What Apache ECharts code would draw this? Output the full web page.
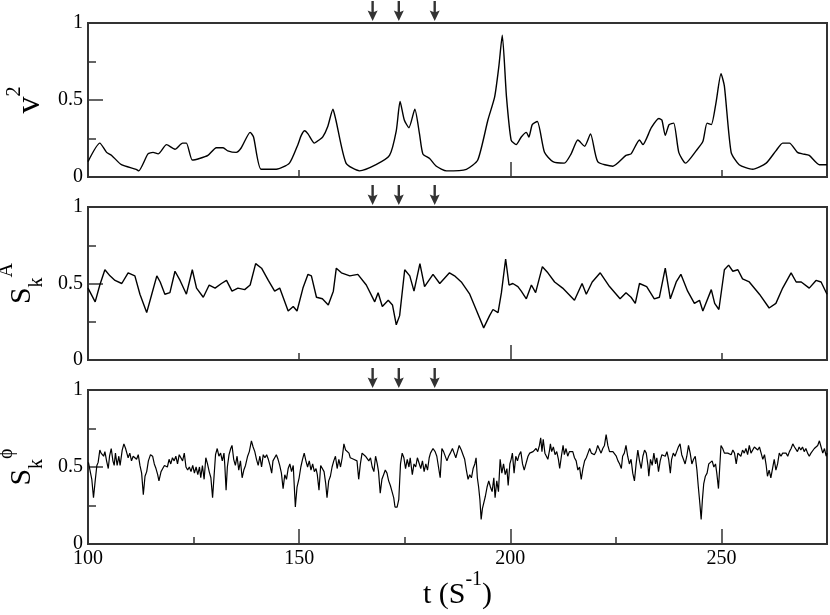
<!DOCTYPE html>
<html>
<head>
<meta charset="utf-8">
<script src="https://cdn.jsdelivr.net/npm/echarts@6/dist/echarts.min.js"></script>
<style>
  html, body { margin: 0; padding: 0; background: #fff; }
  #chart { width: 830px; height: 615px; }
</style>
</head>
<body>
<div id="chart"></div>
<script>
// t of the three marked events (arrows above each panel)
const arrowTimes = [167.4, 173.6, 182.1];

// x ticks
const xLabels = [100, 150, 200, 250];
const xLongTop = [200];
const xShortTop = [150, 250];
const xLongBottom = [150, 200, 250];
const xShortBottom = [125, 175, 225];
// y ticks
const yLabels = [0, 0.5, 1];
const yLong = [0.5];
const yShort = [0.25, 0.75];

// v^2 (t, value)
const v2Points = [
  [100.0,0.10],[102.8,0.22],[104.4,0.16],[105.6,0.14],[107.9,0.08],[111.4,0.05],[112.0,0.04],[114.2,0.15],
  [115.4,0.16],[116.6,0.15],[118.6,0.21],[120.6,0.18],[122.4,0.22],[123.3,0.22],[124.7,0.11],[126.4,0.12],
  [128.4,0.14],[130.4,0.19],[132.0,0.19],[133.1,0.17],[135.1,0.16],[136.3,0.19],[138.4,0.29],[139.2,0.26],
  [141.0,0.05],[144.6,0.05],[147.7,0.09],[149.7,0.21],[150.5,0.27],[151.3,0.30],[152.1,0.28],[153.6,0.22],
  [154.7,0.24],[155.6,0.26],[156.8,0.33],[158.0,0.44],[158.7,0.37],[161.1,0.09],[164.3,0.04],[168.2,0.08],
  [171.4,0.14],[173.0,0.30],[173.9,0.49],[174.9,0.37],[176.0,0.32],[177.4,0.44],[178.5,0.28],[179.3,0.15],
  [180.9,0.12],[182.5,0.07],[184.9,0.04],[189.6,0.05],[192.3,0.11],[194.7,0.37],[196.3,0.52],[197.3,0.72],
  [198.1,0.92],[199.1,0.52],[200.2,0.24],[201.4,0.21],[202.6,0.26],[203.8,0.29],[204.4,0.26],[205.2,0.34],
  [206.4,0.36],[208.1,0.16],[210.1,0.10],[212.8,0.09],[214.4,0.15],[216.0,0.24],[217.6,0.20],[219.0,0.28],
  [220.7,0.10],[224.3,0.07],[227.4,0.14],[228.6,0.15],[230.6,0.24],[231.4,0.21],[233.4,0.32],[235.2,0.38],
  [235.9,0.37],[236.7,0.27],[237.6,0.34],[238.7,0.35],[239.9,0.16],[241.5,0.09],[244.0,0.17],[245.6,0.23],
  [246.6,0.35],[247.6,0.34],[248.7,0.48],[249.9,0.67],[250.7,0.59],[252.3,0.16],[254.2,0.08],[257.4,0.05],
  [260.6,0.09],[262.9,0.17],[264.5,0.22],[266.1,0.22],[268.0,0.16],[269.2,0.15],[270.8,0.14],[273.2,0.08],
  [275.0,0.08]
];

// S_k^A
const sAPoints = [
  [100.0,0.47],[101.7,0.38],[102.8,0.49],[104.0,0.59],[105.2,0.55],[106.4,0.52],[108.0,0.50],[109.5,0.57],
  [111.1,0.55],[112.3,0.43],[113.9,0.31],[115.1,0.43],[116.3,0.55],[117.1,0.51],[118.2,0.43],[119.4,0.44],
  [120.6,0.58],[121.8,0.52],[123.3,0.43],[124.7,0.59],[125.7,0.47],[127.3,0.41],[128.7,0.49],[130.1,0.47],
  [131.6,0.50],[132.8,0.52],[134.1,0.45],[135.5,0.47],[137.1,0.46],[138.4,0.49],[139.7,0.63],[141.1,0.60],
  [142.7,0.52],[144.2,0.45],[145.4,0.47],[147.4,0.32],[148.6,0.35],[149.5,0.32],[150.9,0.47],[152.1,0.56],
  [152.9,0.55],[154.1,0.41],[155.5,0.40],[156.9,0.36],[158.1,0.45],[158.8,0.60],[160.0,0.57],[162.0,0.55],
  [163.9,0.56],[165.9,0.49],[167.9,0.38],[168.7,0.44],[169.7,0.35],[171.1,0.39],[172.1,0.36],[173.0,0.23],
  [173.8,0.29],[175.0,0.59],[176.2,0.55],[177.2,0.45],[178.6,0.63],[179.7,0.48],[181.7,0.56],[183.3,0.50],
  [185.6,0.57],[186.8,0.55],[188.4,0.51],[190.4,0.43],[191.9,0.33],[193.7,0.21],[195.1,0.29],[195.9,0.33],
  [197.1,0.31],[197.9,0.44],[198.9,0.66],[199.7,0.49],[200.6,0.50],[201.8,0.48],[202.6,0.45],[203.8,0.40],
  [205.0,0.49],[206.0,0.44],[207.6,0.61],[208.9,0.57],[210.5,0.51],[212.4,0.47],[215.2,0.39],[217.0,0.50],
  [218.0,0.43],[219.4,0.51],[221.3,0.57],[223.5,0.48],[226.0,0.40],[227.4,0.44],[228.6,0.41],[229.6,0.37],
  [230.6,0.50],[232.3,0.48],[234.1,0.40],[235.3,0.41],[236.7,0.60],[237.9,0.40],[239.3,0.51],[240.4,0.56],
  [242.0,0.45],[243.6,0.37],[244.8,0.39],[245.6,0.32],[247.6,0.46],[248.4,0.37],[249.4,0.33],[250.7,0.59],
  [251.7,0.62],[252.7,0.58],[253.9,0.59],[255.0,0.53],[256.6,0.51],[259.0,0.43],[261.3,0.34],[262.9,0.37],
  [264.5,0.47],[266.5,0.57],[267.7,0.51],[268.9,0.51],[270.8,0.47],[272.4,0.52],[273.6,0.51],[275.0,0.43]
];

// S_k^phi
const sPhiPoints = [
  [100.1,0.53],[100.5,0.52],[100.9,0.42],[101.3,0.30],[101.7,0.41],[102.1,0.51],[102.4,0.53],[102.8,0.61],
  [103.1,0.59],[103.4,0.60],[103.7,0.57],[104.0,0.60],[104.4,0.54],[104.8,0.49],[105.1,0.57],[105.5,0.62],
  [105.9,0.54],[106.2,0.51],[106.5,0.59],[106.9,0.51],[107.3,0.57],[107.6,0.51],[108.1,0.61],[108.5,0.65],
  [108.9,0.62],[109.2,0.59],[109.5,0.56],[109.9,0.59],[110.3,0.54],[110.7,0.57],[111.1,0.58],[111.5,0.55],
  [111.9,0.58],[112.3,0.51],[112.7,0.46],[113.1,0.32],[113.5,0.44],[113.9,0.47],[114.3,0.54],[114.8,0.58],
  [115.3,0.57],[115.7,0.52],[116.1,0.49],[116.5,0.45],[116.8,0.41],[117.3,0.47],[117.7,0.49],[118.1,0.51],
  [118.5,0.52],[118.8,0.50],[119.2,0.55],[119.6,0.52],[120.0,0.56],[120.4,0.54],[120.8,0.57],[121.2,0.52],
  [121.6,0.58],[122.0,0.59],[122.4,0.54],[122.8,0.59],[123.2,0.50],[123.6,0.48],[124.0,0.50],[124.4,0.47],
  [124.8,0.51],[125.2,0.46],[125.6,0.50],[126.0,0.45],[126.4,0.50],[126.7,0.43],[127.1,0.51],[127.5,0.42],
  [127.9,0.56],[128.3,0.52],[128.7,0.47],[129.1,0.43],[129.5,0.30],[129.9,0.46],[130.2,0.58],[130.6,0.62],
  [131.0,0.57],[131.4,0.59],[131.8,0.54],[132.2,0.59],[132.4,0.51],[132.7,0.35],[133.0,0.50],[133.4,0.58],
  [133.8,0.62],[134.1,0.64],[134.5,0.55],[134.9,0.51],[135.3,0.57],[135.7,0.48],[136.1,0.54],[136.5,0.43],
  [136.9,0.48],[137.3,0.51],[137.8,0.57],[138.2,0.60],[138.7,0.67],[139.1,0.63],[139.5,0.60],[139.9,0.55],
  [140.3,0.51],[140.7,0.57],[141.1,0.50],[141.5,0.58],[141.9,0.56],[142.3,0.58],[142.7,0.55],[143.1,0.51],
  [143.5,0.46],[143.8,0.54],[144.2,0.54],[144.6,0.58],[145.0,0.55],[145.4,0.51],[145.8,0.46],[146.2,0.36],
  [146.6,0.45],[147.0,0.42],[147.4,0.49],[147.8,0.52],[148.2,0.47],[148.6,0.51],[149.1,0.24],[149.5,0.37],
  [150.0,0.43],[150.4,0.50],[150.8,0.55],[151.2,0.59],[151.6,0.54],[152.0,0.50],[152.4,0.54],[152.8,0.48],
  [153.2,0.52],[153.6,0.47],[154.0,0.49],[154.3,0.45],[154.7,0.35],[155.1,0.51],[155.5,0.50],[155.9,0.47],
  [156.3,0.39],[156.6,0.30],[157.0,0.41],[157.4,0.44],[157.8,0.50],[158.2,0.54],[158.6,0.57],[159.0,0.49],
  [159.4,0.55],[159.8,0.50],[160.2,0.56],[160.6,0.65],[161.0,0.61],[161.4,0.60],[161.8,0.59],[162.1,0.56],
  [162.5,0.57],[162.9,0.55],[163.3,0.55],[163.7,0.54],[164.1,0.42],[164.5,0.52],[164.9,0.59],[165.3,0.60],
  [165.7,0.57],[166.1,0.58],[166.5,0.54],[166.9,0.56],[167.3,0.50],[167.7,0.47],[168.1,0.57],[168.5,0.52],
  [168.8,0.47],[169.2,0.33],[169.6,0.42],[170.0,0.45],[170.4,0.48],[170.8,0.46],[171.2,0.41],[171.6,0.38],
  [172.0,0.34],[172.4,0.30],[172.7,0.24],[173.2,0.24],[173.6,0.29],[174.0,0.52],[174.4,0.59],[174.8,0.56],
  [175.2,0.49],[175.6,0.55],[176.0,0.50],[176.3,0.56],[176.8,0.45],[177.2,0.52],[177.6,0.50],[178.0,0.56],
  [178.4,0.57],[178.8,0.49],[179.2,0.54],[179.6,0.47],[180.0,0.52],[180.4,0.48],[180.8,0.56],[181.1,0.59],
  [181.7,0.62],[182.2,0.60],[182.6,0.57],[183.0,0.58],[183.4,0.43],[183.8,0.62],[184.2,0.60],[184.6,0.61],
  [185.0,0.54],[185.4,0.57],[185.8,0.59],[186.3,0.62],[186.7,0.59],[187.1,0.56],[187.5,0.57],[187.9,0.64],
  [188.4,0.61],[188.8,0.58],[189.2,0.55],[189.6,0.48],[190.0,0.42],[190.4,0.45],[190.8,0.43],[191.2,0.49],
  [191.6,0.52],[191.9,0.56],[192.2,0.43],[192.5,0.37],[192.8,0.29],[193.1,0.16],[193.4,0.23],[193.8,0.23],
  [194.1,0.31],[194.5,0.37],[194.9,0.41],[195.3,0.37],[195.7,0.34],[196.1,0.43],[196.4,0.30],[196.8,0.41],
  [197.2,0.34],[197.6,0.55],[198.0,0.46],[198.4,0.52],[198.8,0.45],[199.2,0.49],[199.5,0.38],[199.9,0.52],
  [200.2,0.55],[200.5,0.59],[200.9,0.46],[201.3,0.57],[201.7,0.54],[202.1,0.58],[202.5,0.60],[202.9,0.52],
  [203.3,0.48],[203.7,0.52],[204.2,0.57],[204.6,0.59],[205.0,0.58],[205.4,0.60],[205.8,0.61],[206.1,0.62],
  [206.5,0.60],[206.9,0.64],[207.2,0.69],[207.5,0.60],[207.8,0.68],[208.2,0.59],[208.6,0.60],[208.9,0.55],
  [209.3,0.61],[209.5,0.65],[209.8,0.60],[210.2,0.63],[210.6,0.58],[211.0,0.60],[211.4,0.55],[211.7,0.49],
  [212.1,0.57],[212.5,0.64],[212.8,0.58],[213.2,0.62],[213.6,0.57],[214.0,0.60],[214.4,0.59],[214.8,0.60],
  [215.2,0.56],[215.6,0.54],[216.0,0.48],[216.4,0.50],[216.8,0.42],[217.2,0.49],[217.6,0.54],[218.0,0.56],
  [218.4,0.59],[218.8,0.62],[219.2,0.59],[219.5,0.60],[219.9,0.58],[220.3,0.60],[220.7,0.64],[221.1,0.65],
  [221.5,0.59],[221.9,0.62],[222.3,0.64],[222.7,0.71],[223.1,0.64],[223.5,0.60],[223.9,0.61],[224.3,0.60],
  [224.7,0.61],[225.1,0.57],[225.5,0.54],[225.9,0.52],[226.3,0.49],[226.6,0.57],[227.0,0.59],[227.4,0.64],
  [227.8,0.57],[228.2,0.52],[228.6,0.55],[229.0,0.46],[229.4,0.41],[229.8,0.52],[230.2,0.61],[230.6,0.54],
  [231.0,0.49],[231.4,0.57],[231.8,0.61],[232.2,0.59],[232.6,0.51],[232.8,0.44],[233.2,0.55],[233.6,0.51],
  [234.0,0.59],[234.4,0.52],[234.7,0.56],[235.1,0.47],[235.5,0.54],[235.9,0.58],[236.3,0.59],[236.7,0.57],
  [237.1,0.60],[237.5,0.55],[237.9,0.46],[238.2,0.55],[238.6,0.59],[239.0,0.57],[239.4,0.60],[239.8,0.63],
  [240.2,0.65],[240.6,0.58],[241.0,0.55],[241.4,0.52],[241.8,0.57],[242.2,0.64],[242.6,0.59],[243.0,0.52],
  [243.4,0.55],[243.8,0.57],[244.2,0.48],[244.5,0.38],[244.9,0.26],[245.2,0.16],[245.5,0.29],[245.8,0.39],
  [246.2,0.44],[246.6,0.46],[247.0,0.52],[247.4,0.51],[247.8,0.54],[248.2,0.50],[248.6,0.52],[248.9,0.46],
  [249.3,0.36],[249.6,0.50],[249.9,0.64],[250.3,0.62],[250.7,0.59],[251.1,0.60],[251.5,0.59],[251.9,0.60],
  [252.3,0.58],[252.7,0.61],[253.1,0.59],[253.5,0.52],[253.9,0.59],[254.2,0.60],[254.6,0.57],[255.0,0.61],
  [255.4,0.59],[255.8,0.62],[256.2,0.58],[256.6,0.64],[257.0,0.59],[257.4,0.60],[257.8,0.63],[258.2,0.64],
  [258.6,0.61],[259.0,0.63],[259.4,0.59],[259.8,0.55],[260.2,0.58],[260.6,0.51],[260.9,0.44],[261.3,0.48],
  [261.7,0.43],[262.1,0.49],[262.5,0.55],[262.9,0.48],[263.3,0.52],[263.7,0.59],[264.1,0.57],[264.5,0.59],
  [264.9,0.58],[265.3,0.59],[265.7,0.57],[266.1,0.60],[266.5,0.62],[266.9,0.65],[267.3,0.63],[267.7,0.64],
  [268.0,0.60],[268.4,0.63],[268.8,0.61],[269.2,0.63],[269.6,0.60],[270.0,0.62],[270.4,0.59],[270.8,0.57],
  [271.2,0.59],[271.6,0.60],[272.0,0.62],[272.4,0.61],[272.8,0.64],[273.2,0.67],[273.6,0.63],[274.0,0.59],
  [274.4,0.62],[274.8,0.57],[275.0,0.59]
];

const SERIF = 'Liberation Serif';
const FRAME = '#333';
const INK = '#000';

const rich = {
  m: { fontFamily: SERIF, fontSize: 30, color: INK, lineHeight: 50, verticalAlign: 'middle' },
  v: { fontFamily: SERIF, fontSize: 34, color: INK, lineHeight: 50, verticalAlign: 'middle' },
  b: { fontFamily: SERIF, fontSize: 20, color: INK, verticalAlign: 'bottom' },
  p: { fontFamily: SERIF, fontSize: 20, color: INK, verticalAlign: 'top' }
};

const panels = [
  { top: 23, height: 154, points: v2Points, name: '{v|v}{p|2}', gap: 11, xLong: xLongTop, xShort: xShortTop, labels: false },
  { top: 207, height: 153, points: sAPoints, name: '{m|S}{b|k}{p|A}', gap: 41, xLong: xLongTop, xShort: xShortTop, labels: false },
  { top: 390, height: 154, points: sPhiPoints, name: '{m|S}{b|k}{p|ϕ}', gap: 41, xLong: xLongBottom, xShort: xShortBottom, labels: true }
];

const grid = [], xAxis = [], yAxis = [], series = [];
const arrowPath = 'path://M3.8,0 L6.2,0 L6.2,11 L10,9.5 L5,20 L0,9.5 L3.8,11 Z';

panels.forEach((p, i) => {
  grid.push({ left: 88, right: 3, top: p.top, height: p.height, outerBoundsMode: 'none', containLabel: false,
    show: true, borderColor: FRAME, borderWidth: 2 });

  const xBase = { type: 'value', gridIndex: i, position: 'bottom', min: 100, max: 275,
    axisLine: { show: false }, splitLine: { show: false } };
  xAxis.push(Object.assign({}, xBase, {
    axisTick: { show: true, inside: true, length: 15, customValues: p.xLong, lineStyle: { color: FRAME, width: 1.5 } },
    axisLabel: p.labels
      ? { show: true, customValues: xLabels, fontFamily: SERIF, fontSize: 20, color: INK, margin: 5,
          alignMinLabel: 'center', alignMaxLabel: 'center' }
      : { show: false },
    name: p.labels ? '{m|t (S}{p|-1}{m|)}' : '',
    nameLocation: 'middle', nameGap: 25,
    nameTextStyle: { rich: rich }
  }));
  xAxis.push(Object.assign({}, xBase, {
    axisTick: { show: true, inside: true, length: 7, customValues: p.xShort, lineStyle: { color: FRAME, width: 1.5 } },
    axisLabel: { show: false }
  }));

  const yBase = { type: 'value', gridIndex: i, position: 'left', min: 0, max: 1,
    axisLine: { show: false }, splitLine: { show: false } };
  yAxis.push(Object.assign({}, yBase, {
    axisTick: { show: true, inside: true, length: 15, customValues: yLong, lineStyle: { color: FRAME, width: 1.5 } },
    axisLabel: { show: true, customValues: yLabels, fontFamily: SERIF, fontSize: 20, color: INK, margin: 5 },
    name: p.name, nameLocation: 'middle', nameGap: p.gap,
    nameTextStyle: { rich: rich }
  }));
  yAxis.push(Object.assign({}, yBase, {
    axisTick: { show: true, inside: true, length: 8, customValues: yShort, lineStyle: { color: FRAME, width: 1.5 } },
    axisLabel: { show: false }
  }));

  series.push({
    type: 'line', xAxisIndex: 2 * i, yAxisIndex: 2 * i, data: p.points,
    showSymbol: false, smooth: i === 0 ? 0.2 : false,
    lineStyle: { color: INK, width: i === 2 ? 1.2 : 1.4 }, silent: true
  });
  series.push({
    type: 'scatter', xAxisIndex: 2 * i, yAxisIndex: 2 * i,
    data: arrowTimes.map(t => [t, 1]),
    symbol: arrowPath, symbolSize: [10, 20], symbolOffset: [0, -12],
    clip: false, itemStyle: { color: INK }, silent: true
  });
});

const chart = echarts.init(document.getElementById('chart'));
chart.setOption({ animation: false, grid, xAxis, yAxis, series });
</script>
</body>
</html>
